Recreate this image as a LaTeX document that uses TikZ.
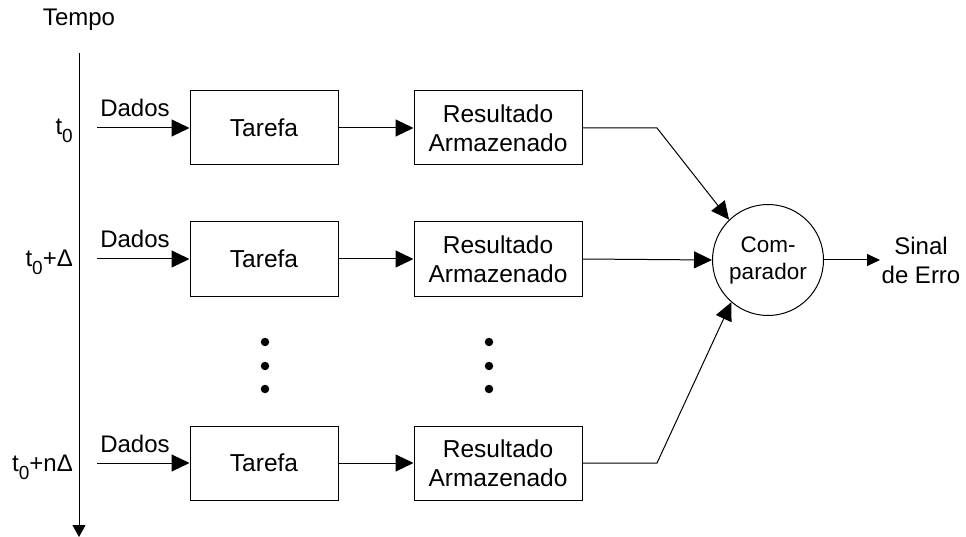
\documentclass[tikz,border=0pt]{standalone}
\usepackage{fontspec}
\setmainfont{Liberation Sans}
\usetikzlibrary{arrows.meta}

% subscript zero used in the time labels
\newcommand{\tzero}{t\raisebox{-8pt}{\fontsize{19}{19}\selectfont 0}}

\begin{document}
\begin{tikzpicture}[x=1pt,y=-1pt,
  lbl/.style={font=\fontsize{24}{29}\selectfont, inner sep=0pt},
  taskbox/.style={draw, line width=1pt, minimum width=148pt, minimum height=74pt,
                  inner sep=0pt, font=\fontsize{24.5}{29}\selectfont},
  resbox/.style={draw, line width=1pt, minimum width=168pt, minimum height=74pt,
                 inner sep=0pt, align=center, font=\fontsize{24.5}{29}\selectfont},
  bigarrow/.style={line width=1pt, -{Triangle[length=18pt,width=17pt]}},
  smallarrow/.style={line width=1pt, -{Triangle[length=12pt,width=13pt]}},
  dot/.style={circle, fill=black, inner sep=0pt, minimum size=8.5pt}
]
\useasboundingbox (0,0) rectangle (966,537);

% time axis
\node[lbl] (tempo) at (79,20) {Tempo};
\coordinate (axtop) at (79,53);
\coordinate (axbot) at (79,537);
\draw[smallarrow] (axtop) -- (axbot);

% time labels
\node[lbl, anchor=base east] (l0) at (73,135) {\tzero};
\node[lbl, anchor=base east] (l1) at (73,267) {\tzero+Δ};
\node[lbl, anchor=base east] (l2) at (73,471) {\tzero+nΔ};

% task boxes and stored results
\node[taskbox] (tar1) at (264,128) {Tarefa};
\node[taskbox] (tar2) at (264,259) {Tarefa};
\node[taskbox] (tar3) at (264,463) {Tarefa};
\node[resbox] (res1) at (498,128) {Resultado\\Armazenado};
\node[resbox] (res2) at (498,259) {Resultado\\Armazenado};
\node[resbox] (res3) at (498,463) {Resultado\\Armazenado};

% data inputs
\coordinate (in1) at (97,128);
\coordinate (in2) at (97,259);
\coordinate (in3) at (97,463);
\node[lbl, anchor=base] (d1) at (135,117) {Dados};
\node[lbl, anchor=base] (d2) at (135,248) {Dados};
\node[lbl, anchor=base] (d3) at (135,452) {Dados};
\draw[bigarrow] (in1) -- (tar1.west);
\draw[bigarrow] (in2) -- (tar2.west);
\draw[bigarrow] (in3) -- (tar3.west);

\draw[bigarrow] (tar1.east) -- (res1.west);
\draw[bigarrow] (tar2.east) -- (res2.west);
\draw[bigarrow] (tar3.east) -- (res3.west);

% ellipsis dots
\node[dot] (ea1) at (265,342) {};
\node[dot] (ea2) at (265,366) {};
\node[dot] (ea3) at (265,389) {};
\node[dot] (eb1) at (489,342) {};
\node[dot] (eb2) at (489,366) {};
\node[dot] (eb3) at (489,389) {};

% comparator
\node[draw, circle, line width=1pt, minimum size=111pt, inner sep=0pt,
      align=center, font=\fontsize{22.5}{27}\selectfont] (comp) at (768,260) {Com-\\parador};

\coordinate (b1) at (657,128);
\coordinate (b3) at (657,463);
\draw[bigarrow] (res1.east) -- (b1) -- (comp.134);
\draw[bigarrow] (res2.east) -- (comp.west);
\draw[bigarrow] (res3.east) -- (b3) -- (comp.229);

% error signal output
\coordinate (out) at (880,260);
\draw[line width=1pt, -{Triangle[length=13pt,width=12pt]}] (comp.east) -- (out);
\node[lbl, align=center, font=\fontsize{24}{29}\selectfont] (sinal) at (921,260) {Sinal\\de Erro};
\end{tikzpicture}
\end{document}
